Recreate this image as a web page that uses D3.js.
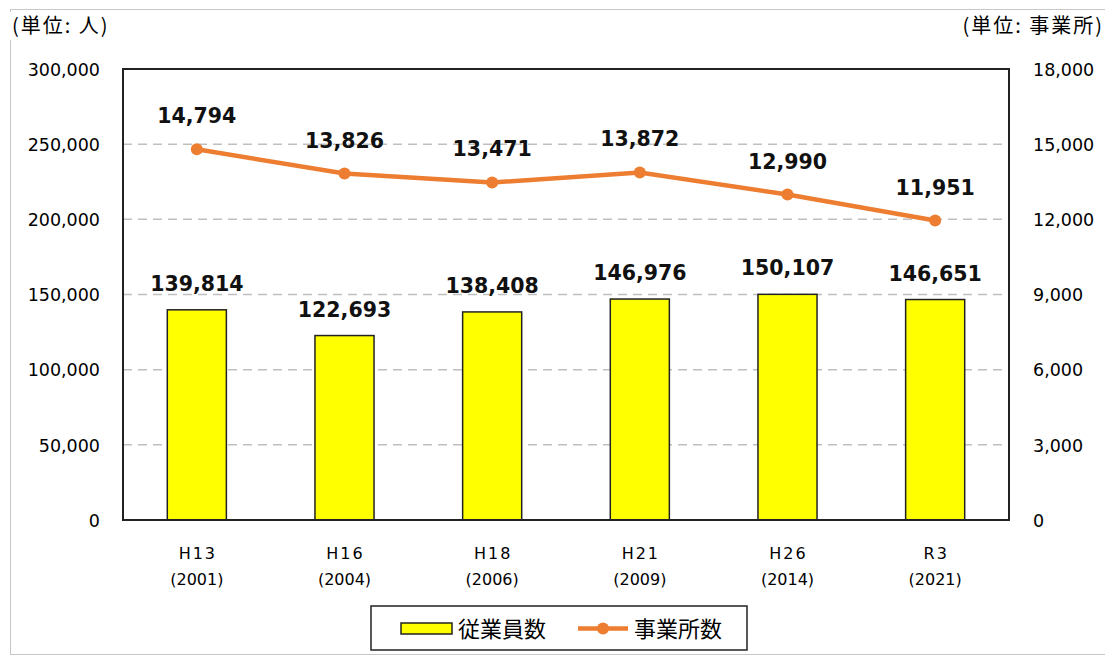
<!DOCTYPE html>
<html><head><meta charset="utf-8">
<script src="https://cdn.jsdelivr.net/npm/d3@7"></script>
<style>body{margin:0;background:#fff;}</style>
</head><body>
<svg id="c" width="1105" height="657"></svg>
<script>
const categories = ["H13|(2001)","H16|(2004)","H18|(2006)","H21|(2009)","H26|(2014)","R3|(2021)"];
const employees = [139814,122693,138408,146976,150107,146651];
const establishments = [14794,13826,13471,13872,12990,11951];
const leftTicks = [0,50000,100000,150000,200000,250000,300000];
const rightTicks = [0,3000,6000,9000,12000,15000,18000];
const seriesNames = ["従業員数","事業所数"];

const svg = d3.select("#c");
const m = {l:123, t:69, r:1009, b:520};
const fmt = d3.format(",");
const jpFont = "'Noto Sans CJK JP','Noto Sans',sans-serif";
const numFont = "'DejaVu Sans',sans-serif";
const lblFont = "'DejaVu Sans',sans-serif";
svg.append("rect").attr("x",10.5).attr("y",9.5).attr("width",1100).attr("height",645).attr("fill","none").attr("stroke","#c8c8c8");

const x = d3.scaleBand().domain(categories).range([m.l,m.r]).paddingInner(0.6).paddingOuter(0.3);
const yL = d3.scaleLinear().domain([0,300000]).range([m.b,m.t]);
const yR = d3.scaleLinear().domain([0,18000]).range([m.b,m.t]);

// grid
svg.append("g").selectAll("line").data(leftTicks.slice(1,-1)).join("line")
  .attr("x1",m.l).attr("x2",m.r).attr("y1",d=>yL(d)).attr("y2",d=>yL(d))
  .attr("stroke","#bfbfbf").attr("stroke-width",1.5).attr("stroke-dasharray","9,6");

// axes
const gl = svg.append("g").attr("transform",`translate(${m.l-23},0)`)
  .call(d3.axisLeft(yL).tickValues(leftTicks).tickFormat(fmt).tickSize(0).tickPadding(0));
gl.select(".domain").remove();
gl.selectAll("text").style("font-size","17.5px").style("font-family",numFont).attr("fill","#000").attr("dy","0.36em");
const gr = svg.append("g").attr("transform",`translate(${m.r+24},0)`)
  .call(d3.axisRight(yR).tickValues(rightTicks).tickFormat(fmt).tickSize(0).tickPadding(0));
gr.select(".domain").remove();
gr.selectAll("text").style("font-size","17.5px").style("font-family",numFont).attr("fill","#000").attr("dy","0.36em");

// bars
svg.append("g").selectAll("rect").data(employees).join("rect")
  .attr("x",(d,i)=>x(categories[i])).attr("width",x.bandwidth())
  .attr("y",d=>yL(d)).attr("height",d=>yL(0)-yL(d))
  .attr("fill","#ffff00").attr("stroke","#222").attr("stroke-width",1.5);
svg.append("g").selectAll("text").data(employees).join("text")
  .attr("x",(d,i)=>x(categories[i])+x.bandwidth()/2).attr("y",d=>yL(d)-19)
  .attr("text-anchor","middle").style("font-size","20.5px").style("font-family",lblFont).style("font-weight","bold").attr("fill","#111")
  .text(d=>fmt(d));

// plot frame
svg.append("rect").attr("x",m.l).attr("y",m.t).attr("width",m.r-m.l).attr("height",m.b-m.t)
  .attr("fill","none").attr("stroke","#222").attr("stroke-width",2);

// line
const cx = (d,i)=>x(categories[i])+x.bandwidth()/2;
svg.append("path").datum(establishments)
  .attr("d",d3.line().x(cx).y(d=>yR(d)))
  .attr("fill","none").attr("stroke","#ed7d31").attr("stroke-width",4.5);
svg.append("g").selectAll("circle").data(establishments).join("circle")
  .attr("cx",cx).attr("cy",d=>yR(d)).attr("r",6).attr("fill","#ed7d31");
svg.append("g").selectAll("text").data(establishments).join("text")
  .attr("x",cx).attr("y",d=>yR(d)-26)
  .attr("text-anchor","middle").style("font-size","20.5px").style("font-family",lblFont).style("font-weight","bold").attr("fill","#111")
  .text(d=>fmt(d));

// x labels
const xl = svg.append("g").selectAll("text").data(categories).join("text")
  .attr("text-anchor","middle").style("font-size","16px").style("font-family",numFont).attr("fill","#000");
xl.append("tspan").attr("x",d=>x(d)+x.bandwidth()/2+1).attr("y",559).style("letter-spacing","2px").text(d=>d.split("|")[0]);
xl.append("tspan").attr("x",d=>x(d)+x.bandwidth()/2).attr("y",585).text(d=>d.split("|")[1]);

// unit labels
svg.append("rect").attr("x",8).attr("y",12).attr("width",112).attr("height",28).attr("fill","#fff");
svg.append("text").attr("x",12).attr("y",33).style("font-size","20px").style("font-family",jpFont).style("letter-spacing","2px").attr("fill","#000").text("(単位: 人)");
svg.append("text").attr("x",1104).attr("y",33).attr("text-anchor","end").style("font-size","20px").style("font-family",jpFont).style("letter-spacing","2px").attr("fill","#000").text("(単位: 事業所)");

// legend
const lg = svg.append("g");
lg.append("rect").attr("x",371).attr("y",606).attr("width",376).attr("height",44).attr("fill","#fff").attr("stroke","#222").attr("stroke-width",1.5);
lg.append("rect").attr("x",401).attr("y",623).attr("width",51).attr("height",11).attr("fill","#ffff00").attr("stroke","#222").attr("stroke-width",1.5);
lg.append("text").attr("x",458).attr("y",637).style("font-size","22px").style("font-family",jpFont).attr("fill","#000").text(seriesNames[0]);
lg.append("line").attr("x1",578).attr("x2",628).attr("y1",628.5).attr("y2",628.5).attr("stroke","#ed7d31").attr("stroke-width",4.5);
lg.append("circle").attr("cx",603).attr("cy",628.5).attr("r",6).attr("fill","#ed7d31");
lg.append("text").attr("x",634).attr("y",637).style("font-size","22px").style("font-family",jpFont).attr("fill","#000").text(seriesNames[1]);
</script>
</body></html>
